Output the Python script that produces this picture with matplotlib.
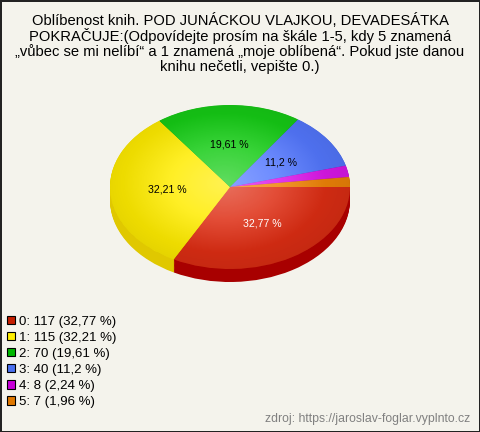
import numpy as np
import matplotlib

matplotlib.use("Agg")
import matplotlib.pyplot as plt
from matplotlib.patches import Patch, Ellipse


TITLE = ("Oblíbenost knih. POD JUNÁCKOU VLAJKOU, DEVADESÁTKA\n"
         "POKRAČUJE:(Odpovídejte prosím na škále 1-5, kdy 5 znamená\n"
         "„vůbec se mi nelíbí“ a 1 znamená „moje oblíbená“. Pokud jste danou\n"
         "knihu nečetli, vepište 0.)")
SOURCE = "zdroj: https://jaroslav-foglar.vyplnto.cz"

categories = ["0", "1", "2", "3", "4", "5"]
counts = [117, 115, 70, 40, 8, 7]

top_colors = ["#de2e14", "#ffec00", "#16cc16", "#5478ff", "#dc18ea", "#f08408"]
side_colors = ["#a80000", "#e0c800", "#0a9a0a", "#3050c0", "#a000b0", "#c06000"]
legend_colors = ["#c41e00", "#ffee00", "#00b800", "#4a70f0", "#c800d8", "#e07800"]
label_colors = ["white", "black", "black", "black", "black", "black"]

BG = "#f4f3ec"
W, H = 480, 432


def fmt_pct(pct):
    if pct < 5:
        return ""
    return "{:g} %".format(round(pct, 2)).replace(".", ",")


def pct_text(c):
    pct = round(c / sum(counts) * 100, 2)
    return "{:g} %".format(pct).replace(".", ",")


fig = plt.figure(figsize=(W / 100, H / 100), dpi=100)
fig.patch.set_facecolor(BG)
fig.patch.set_edgecolor("#222222")
fig.patch.set_linewidth(2)

fig.text(0.5, 1 - 13 / H, TITLE, ha="center", va="top", fontsize=10.6,
         family="Liberation Sans", linespacing=1.02, color="black")

# pie axes: top face 240x164 px centred at (230, 187), side 13 px thick
cx, cy, rx, ry, thick = 230, 187, 120, 82, 13
ax = fig.add_axes([(cx - rx) / W, (H - (cy + ry + thick)) / H,
                   2 * rx / W, (2 * ry + thick) / H])
ax.set_facecolor("none")
ax.axis("off")
depth = thick / ry

for off in np.linspace(depth, 0.005, 16):
    ax.pie(counts, colors=side_colors, startangle=0, counterclock=False,
           center=(0, -off), radius=1, wedgeprops=dict(linewidth=0))

wedges, _, autotexts = ax.pie(
    counts, colors=top_colors, startangle=0, counterclock=False,
    radius=1, autopct=fmt_pct, pctdistance=0.52,
    wedgeprops=dict(linewidth=0),
    textprops=dict(fontsize=7.6, family="Liberation Sans"))
for t, col in zip(autotexts, label_colors):
    t.set_color(col)

# soft radial shading on the top face: light near the middle, a bit darker at the rim
yy, xx = np.mgrid[-1:1:300j, -1:1:300j]
rr = np.hypot(xx + 0.05, yy - 0.05)
light = np.clip(0.32 * (1 - rr / 0.85), 0, None)
dark = np.clip(0.18 * (rr - 0.45), 0, None)
alpha = np.clip(light + dark, 0, 1)
shade = np.zeros((300, 300, 4))
grey = np.divide(light, light + dark, out=np.zeros_like(light), where=(light + dark) > 0)
shade[..., 0] = grey
shade[..., 1] = grey
shade[..., 2] = grey
shade[..., 3] = alpha
clip = Ellipse((0, 0), 2, 2, transform=ax.transData, facecolor="none", edgecolor="none")
ax.add_patch(clip)
im = ax.imshow(shade, extent=(-1, 1, -1, 1), origin="lower", zorder=3, interpolation="bilinear")
im.set_clip_path(clip)
for t in autotexts:
    t.set_zorder(5)

ax.set_aspect("auto")
ax.set_xlim(-1, 1)
ax.set_ylim(-1 - depth, 1)

handles = [Patch(facecolor=c, edgecolor="black", linewidth=0.8) for c in legend_colors]
labels = [f"{cat}: {n} ({pct_text(n)})" for cat, n in zip(categories, counts)]
fig.legend(handles, labels, loc="upper left", bbox_to_anchor=(4 / W, 1 - 313 / H),
           frameon=False, prop=dict(family="Liberation Sans", size=9.5),
           handlelength=0.6, handleheight=0.6, handletextpad=0.3,
           labelspacing=0.31, borderaxespad=0, borderpad=0.2)

fig.text(1 - 10 / W, 1 - 419 / H, SOURCE, ha="right", va="center",
         fontsize=8.8, family="Liberation Sans", color="#808080")

fig.savefig("out.png", dpi=100, facecolor=fig.get_facecolor(), edgecolor=fig.get_edgecolor())
